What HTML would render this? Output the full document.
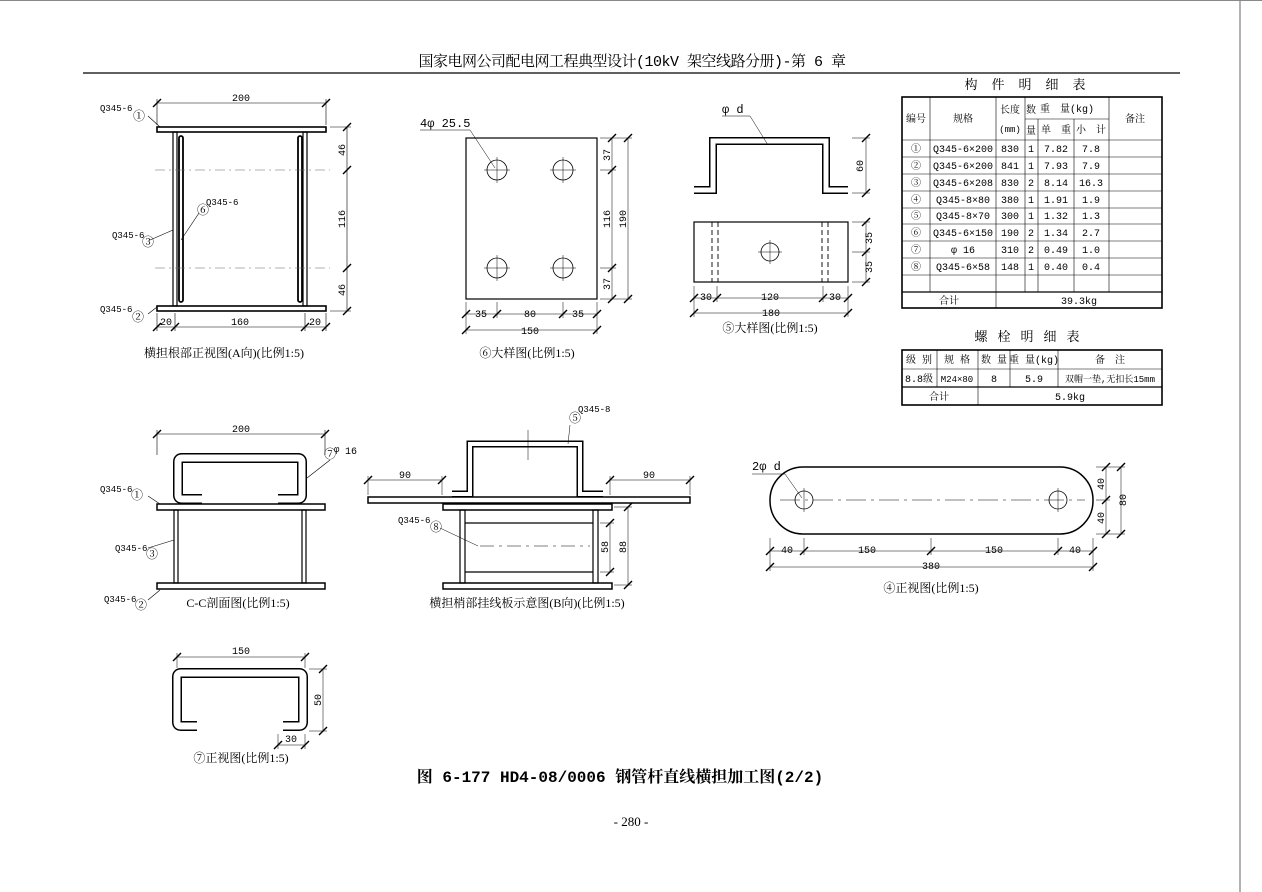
<!DOCTYPE html>
<html><head><meta charset="utf-8"><style>
html,body{margin:0;padding:0;background:#fff;}
svg{display:block;font-family:"Liberation Serif","Noto Serif CJK SC","Noto Sans CJK SC",serif;}
.m{font-family:"Liberation Mono","Noto Serif CJK SC",monospace;}
</style></head><body>
<svg width="1262" height="892" viewBox="0 0 1262 892" xmlns="http://www.w3.org/2000/svg">
<defs>
<line id="t" x1="-4" y1="4" x2="4" y2="-4" stroke="#000" stroke-width="1.4"/>
</defs>
<rect x="0" y="0" width="1262" height="892" fill="#fff"/>
<line x1="1240" y1="0" x2="1240" y2="892" stroke="#666" stroke-width="1"/>
<line x1="0" y1="0.5" x2="1262" y2="0.5" stroke="#888" stroke-width="1"/>
<text x="632" y="66" font-size="15" text-anchor="middle" class="m" letter-spacing="-0.5">国家电网公司配电网工程典型设计(10kV 架空线路分册)-第 6 章</text>
<line x1="83" y1="73" x2="1180" y2="73" stroke="#000" stroke-width="1.2"/>

<g fill="none" stroke="#000" stroke-width="1.2">
<rect x="157" y="127" width="169" height="5" stroke-width="1.6"/>
<rect x="157" y="306" width="169" height="5" stroke-width="1.6"/>
<rect x="173" y="132" width="4" height="174"/>
<rect x="303" y="132" width="4" height="174"/>
<rect x="179" y="136" width="4" height="166" rx="2" stroke-width="1.8"/>
<rect x="298" y="136" width="4" height="166" rx="2" stroke-width="1.8"/>
<g stroke-width="0.5" stroke-dasharray="10 4 2 4" stroke="#666"><line x1="155" y1="170" x2="330" y2="170"/><line x1="155" y1="268" x2="330" y2="268"/></g>
<g stroke-width="0.6"><line x1="157" y1="103" x2="326" y2="103"/><line x1="157" y1="99" x2="157" y2="125"/><line x1="326" y1="99" x2="326" y2="125"/>
<line x1="347" y1="127" x2="347" y2="311"/><line x1="330" y1="127" x2="351" y2="127"/><line x1="330" y1="311" x2="351" y2="311"/>
<line x1="157" y1="327" x2="326" y2="327"/><line x1="157" y1="313" x2="157" y2="331"/><line x1="175" y1="313" x2="175" y2="331"/><line x1="305" y1="313" x2="305" y2="331"/><line x1="326" y1="313" x2="326" y2="331"/>
<line x1="148" y1="116" x2="160" y2="127"/><line x1="148" y1="314" x2="157" y2="307"/><line x1="150" y1="240" x2="173" y2="230"/><line x1="199" y1="213" x2="181" y2="240"/></g>
<rect x="466" y="138" width="131" height="161"/>
<g stroke-width="0.8"><circle cx="497" cy="170" r="10"/><circle cx="563" cy="170" r="10"/><circle cx="497" cy="268" r="10"/><circle cx="563" cy="268" r="10"/></g>
<g stroke-width="0.5"><path d="M484 170h26M497 157v26M550 170h26M563 157v26M484 268h26M497 255v26M550 268h26M563 255v26"/>
<line x1="612" y1="138" x2="612" y2="299"/><line x1="628" y1="138" x2="628" y2="299"/><line x1="600" y1="138" x2="632" y2="138"/><line x1="600" y1="299" x2="632" y2="299"/><line x1="600" y1="170" x2="616" y2="170"/><line x1="600" y1="268" x2="616" y2="268"/>
<line x1="466" y1="314" x2="597" y2="314"/><line x1="466" y1="330" x2="597" y2="330"/><line x1="466" y1="302" x2="466" y2="334"/><line x1="597" y1="302" x2="597" y2="334"/><line x1="497" y1="302" x2="497" y2="318"/><line x1="563" y1="302" x2="563" y2="318"/>
<line x1="420" y1="130" x2="470" y2="130"/><line x1="470" y1="130" x2="495" y2="168"/></g>
<polyline points="694,190 713,190 713,141 826,141 826,190 848,190" stroke-width="8" stroke-linejoin="miter"/>
<polyline points="694,190 713,190 713,141 826,141 826,190 848,190" stroke="#fff" stroke-width="5"/>
<rect x="694" y="222" width="154" height="60"/>
<circle cx="770" cy="252" r="9" stroke-width="0.8"/>
<g stroke-width="0.5"><path d="M758 252h24M770 240v24"/>
<g stroke-dasharray="5 3" stroke-width="0.9"><line x1="712" y1="222" x2="712" y2="282"/><line x1="718" y1="222" x2="718" y2="282"/><line x1="822" y1="222" x2="822" y2="282"/><line x1="828" y1="222" x2="828" y2="282"/></g>
<line x1="866" y1="138" x2="866" y2="193"/><line x1="852" y1="138" x2="870" y2="138"/><line x1="852" y1="193" x2="870" y2="193"/>
<line x1="866" y1="222" x2="866" y2="282"/><line x1="852" y1="222" x2="870" y2="222"/><line x1="852" y1="282" x2="870" y2="282"/><line x1="852" y1="252" x2="870" y2="252"/>
<line x1="694" y1="298" x2="848" y2="298"/><line x1="694" y1="313" x2="848" y2="313"/><line x1="694" y1="286" x2="694" y2="317"/><line x1="848" y1="286" x2="848" y2="317"/><line x1="717" y1="286" x2="717" y2="302"/><line x1="823" y1="286" x2="823" y2="302"/>
<line x1="722" y1="116" x2="750" y2="116"/><line x1="750" y1="116" x2="768" y2="145"/></g>
<rect x="157" y="504" width="168" height="6" stroke-width="1.5"/>
<rect x="157" y="583" width="168" height="6" stroke-width="1.5"/>
<rect x="174" y="510" width="4" height="73"/><rect x="302" y="510" width="4" height="73"/>
<path d="M202,499 H182 Q178,499 178,495 V462 Q178,458 182,458 H298 Q302,458 302,462 V495 Q302,499 298,499 H278" stroke-width="10"/>
<path d="M202,499 H182 Q178,499 178,495 V462 Q178,458 182,458 H298 Q302,458 302,462 V495 Q302,499 298,499 H278" stroke="#fff" stroke-width="7"/>
<g stroke-width="0.6"><line x1="157" y1="434" x2="325" y2="434"/><line x1="157" y1="430" x2="157" y2="455"/><line x1="325" y1="430" x2="325" y2="455"/>
<line x1="148" y1="496" x2="160" y2="504"/><line x1="148" y1="548" x2="174" y2="540"/><line x1="148" y1="600" x2="160" y2="590"/><line x1="330" y1="460" x2="307" y2="478"/></g>
<rect x="368" y="497" width="322" height="6" stroke-width="1.5"/>
<polyline points="452,494 470,494 470,444 580,444 580,494 603,494" stroke-width="7"/>
<polyline points="452,494 470,494 470,444 580,444 580,494 603,494" stroke="#fff" stroke-width="4"/>
<rect x="443" y="504" width="169" height="6" stroke-width="1.5"/>
<rect x="443" y="583" width="169" height="6" stroke-width="1.5"/>
<rect x="460" y="510" width="5" height="73"/><rect x="593" y="510" width="5" height="73"/>
<line x1="465" y1="523" x2="593" y2="523"/><line x1="465" y1="572" x2="593" y2="572"/>
<g stroke-width="0.5"><line x1="480" y1="546" x2="590" y2="546" stroke-dasharray="14 5 3 5"/><line x1="528" y1="430" x2="528" y2="460"/>
<line x1="368" y1="480" x2="442" y2="480"/><line x1="368" y1="476" x2="368" y2="495"/><line x1="442" y1="476" x2="442" y2="495"/>
<line x1="610" y1="480" x2="690" y2="480"/><line x1="610" y1="476" x2="610" y2="495"/><line x1="690" y1="476" x2="690" y2="495"/>
<line x1="610" y1="523" x2="610" y2="572"/><line x1="600" y1="523" x2="614" y2="523"/><line x1="600" y1="572" x2="614" y2="572"/>
<line x1="628" y1="507" x2="628" y2="585"/><line x1="614" y1="507" x2="632" y2="507"/><line x1="614" y1="585" x2="632" y2="585"/>
<line x1="440" y1="528" x2="478" y2="546"/><line x1="570" y1="425" x2="568" y2="444"/></g>
<rect x="770" y="467" width="323" height="67" rx="33" ry="33" stroke-width="1.5"/>
<circle cx="804" cy="500" r="9" stroke-width="0.8"/><circle cx="1058" cy="500" r="9" stroke-width="0.8"/>
<g stroke-width="0.5"><line x1="780" y1="500" x2="1085" y2="500" stroke-dasharray="20 5 3 5"/><path d="M804 488v24M1058 488v24"/>
<line x1="1106" y1="467" x2="1106" y2="534"/><line x1="1121" y1="467" x2="1121" y2="534"/><line x1="1096" y1="467" x2="1125" y2="467"/><line x1="1096" y1="534" x2="1125" y2="534"/><line x1="1096" y1="500" x2="1110" y2="500"/>
<line x1="770" y1="551" x2="1093" y2="551"/><line x1="770" y1="567" x2="1093" y2="567"/><line x1="770" y1="538" x2="770" y2="571"/><line x1="1093" y1="538" x2="1093" y2="571"/><line x1="804" y1="538" x2="804" y2="555"/><line x1="931" y1="538" x2="931" y2="555"/><line x1="1058" y1="538" x2="1058" y2="555"/>
<line x1="752" y1="474" x2="785" y2="474"/><line x1="785" y1="474" x2="802" y2="498"/></g>
<path d="M197,726 H181 Q177,726 177,722 V677 Q177,673 181,673 H299 Q303,673 303,677 V722 Q303,726 299,726 H283" stroke-width="10"/>
<path d="M197,726 H181 Q177,726 177,722 V677 Q177,673 181,673 H299 Q303,673 303,677 V722 Q303,726 299,726 H283" stroke="#fff" stroke-width="7"/>
<g stroke-width="0.5"><line x1="177" y1="657" x2="305" y2="657"/><line x1="177" y1="653" x2="177" y2="668"/><line x1="305" y1="653" x2="305" y2="668"/>
<line x1="323" y1="669" x2="323" y2="731"/><line x1="309" y1="669" x2="327" y2="669"/><line x1="309" y1="731" x2="327" y2="731"/>
<line x1="278" y1="745" x2="305" y2="745"/><line x1="278" y1="734" x2="278" y2="749"/><line x1="305" y1="734" x2="305" y2="749"/></g>
</g>
<g>
<use href="#t" x="157" y="103"/><use href="#t" x="326" y="103"/><use href="#t" x="347" y="127"/><use href="#t" x="347" y="170"/><use href="#t" x="347" y="268"/><use href="#t" x="347" y="311"/>
<use href="#t" x="157" y="327"/><use href="#t" x="175" y="327"/><use href="#t" x="305" y="327"/><use href="#t" x="326" y="327"/>
<use href="#t" x="612" y="138"/><use href="#t" x="612" y="170"/><use href="#t" x="612" y="268"/><use href="#t" x="612" y="299"/><use href="#t" x="628" y="138"/><use href="#t" x="628" y="299"/>
<use href="#t" x="466" y="314"/><use href="#t" x="497" y="314"/><use href="#t" x="563" y="314"/><use href="#t" x="597" y="314"/><use href="#t" x="466" y="330"/><use href="#t" x="597" y="330"/>
<use href="#t" x="866" y="138"/><use href="#t" x="866" y="193"/><use href="#t" x="866" y="222"/><use href="#t" x="866" y="252"/><use href="#t" x="866" y="282"/>
<use href="#t" x="694" y="298"/><use href="#t" x="717" y="298"/><use href="#t" x="823" y="298"/><use href="#t" x="848" y="298"/><use href="#t" x="694" y="313"/><use href="#t" x="848" y="313"/>
<use href="#t" x="157" y="434"/><use href="#t" x="325" y="434"/>
<use href="#t" x="368" y="480"/><use href="#t" x="442" y="480"/><use href="#t" x="610" y="480"/><use href="#t" x="690" y="480"/>
<use href="#t" x="610" y="523"/><use href="#t" x="610" y="572"/><use href="#t" x="628" y="507"/><use href="#t" x="628" y="585"/>
<use href="#t" x="1106" y="467"/><use href="#t" x="1106" y="500"/><use href="#t" x="1106" y="534"/><use href="#t" x="1121" y="467"/><use href="#t" x="1121" y="534"/>
<use href="#t" x="770" y="551"/><use href="#t" x="804" y="551"/><use href="#t" x="931" y="551"/><use href="#t" x="1058" y="551"/><use href="#t" x="1093" y="551"/><use href="#t" x="770" y="567"/><use href="#t" x="1093" y="567"/>
<use href="#t" x="177" y="657"/><use href="#t" x="305" y="657"/><use href="#t" x="323" y="669"/><use href="#t" x="323" y="731"/><use href="#t" x="278" y="745"/><use href="#t" x="305" y="745"/>
</g>
<g font-size="10" class="m">
<text x="241" y="101" text-anchor="middle">200</text>
<text transform="translate(345,150) rotate(-90)" text-anchor="middle">46</text>
<text transform="translate(345,219) rotate(-90)" text-anchor="middle">116</text>
<text transform="translate(345,290) rotate(-90)" text-anchor="middle">46</text>
<text x="166" y="325" text-anchor="middle">20</text><text x="240" y="325" text-anchor="middle">160</text><text x="315" y="325" text-anchor="middle">20</text>
<text x="100" y="111" font-size="9">Q345-6</text><text x="139" y="120" font-size="12" text-anchor="middle">①</text>
<text x="100" y="312" font-size="9">Q345-6</text><text x="138" y="321" font-size="12" text-anchor="middle">②</text>
<text x="112" y="238" font-size="9">Q345-6</text><text x="148" y="246" font-size="12" text-anchor="middle">③</text>
<text x="206" y="205" font-size="9">Q345-6</text><text x="203" y="214" font-size="12" text-anchor="middle">⑥</text>
<text x="420" y="127" font-size="12">4φ 25.5</text>
<text transform="translate(610,155) rotate(-90)" text-anchor="middle">37</text>
<text transform="translate(610,219) rotate(-90)" text-anchor="middle">116</text>
<text transform="translate(610,284) rotate(-90)" text-anchor="middle">37</text>
<text transform="translate(626,219) rotate(-90)" text-anchor="middle">190</text>
<text x="481" y="317" text-anchor="middle">35</text><text x="530" y="317" text-anchor="middle">80</text><text x="578" y="317" text-anchor="middle">35</text><text x="530" y="334" text-anchor="middle">150</text>
<text x="722" y="113" font-size="12">φ d</text>
<text transform="translate(863,166) rotate(-90)" text-anchor="middle">60</text>
<text transform="translate(872,238) rotate(-90)" text-anchor="middle">35</text>
<text transform="translate(872,267) rotate(-90)" text-anchor="middle">35</text>
<text x="706" y="300" text-anchor="middle">30</text><text x="770" y="300" text-anchor="middle">120</text><text x="835" y="300" text-anchor="middle">30</text><text x="771" y="316" text-anchor="middle">180</text>
<text x="241" y="432" text-anchor="middle">200</text>
<text x="100" y="492" font-size="9">Q345-6</text><text x="137" y="499" font-size="12" text-anchor="middle">①</text>
<text x="115" y="551" font-size="9">Q345-6</text><text x="152" y="558" font-size="12" text-anchor="middle">③</text>
<text x="104" y="602" font-size="9">Q345-6</text><text x="141" y="609" font-size="12" text-anchor="middle">②</text>
<text x="330" y="458" font-size="12" text-anchor="middle">⑦</text><text x="345" y="454">16</text><text x="334" y="452" font-size="9">φ</text>
<text x="405" y="478" text-anchor="middle">90</text><text x="649" y="478" text-anchor="middle">90</text>
<text x="578" y="412" font-size="9">Q345-8</text><text x="575" y="422" font-size="12" text-anchor="middle">⑤</text>
<text x="398" y="523" font-size="9">Q345-6</text><text x="436" y="531" font-size="12" text-anchor="middle">⑧</text>
<text transform="translate(608,547) rotate(-90)" text-anchor="middle">58</text>
<text transform="translate(626,547) rotate(-90)" text-anchor="middle">88</text>
<text x="752" y="470" font-size="12">2φ d</text>
<text transform="translate(1104,484) rotate(-90)" text-anchor="middle">40</text>
<text transform="translate(1104,518) rotate(-90)" text-anchor="middle">40</text>
<text transform="translate(1126,500) rotate(-90)" text-anchor="middle">80</text>
<text x="787" y="553" text-anchor="middle">40</text><text x="867" y="553" text-anchor="middle">150</text><text x="994" y="553" text-anchor="middle">150</text><text x="1075" y="553" text-anchor="middle">40</text><text x="931" y="569" text-anchor="middle">380</text>
<text x="241" y="654" text-anchor="middle">150</text>
<text transform="translate(321,700) rotate(-90)" text-anchor="middle">50</text>
<text x="291" y="742" text-anchor="middle">30</text>
</g>
<g font-size="12" text-anchor="middle">
<text x="224" y="357">横担根部正视图(A向)(比例1:5)</text>
<text x="527" y="357">⑥大样图(比例1:5)</text>
<text x="770" y="332">⑤大样图(比例1:5)</text>
<text x="238" y="607">C-C剖面图(比例1:5)</text>
<text x="527" y="607">横担梢部挂线板示意图(B向)(比例1:5)</text>
<text x="931" y="592">④正视图(比例1:5)</text>
<text x="241" y="762">⑦正视图(比例1:5)</text>
</g>
<text x="620" y="782" font-size="16" text-anchor="middle" class="m" font-weight="bold">图 6-177  HD4-08/0006 钢管杆直线横担加工图(2/2)</text>
<text x="631" y="826" font-size="13" text-anchor="middle">- 280 -</text>

<text x="1032" y="89" font-size="13" text-anchor="middle" letter-spacing="14">构件明细表</text>
<g fill="none" stroke="#000">
<rect x="902" y="97" width="260" height="211" stroke-width="1.6"/>
<g stroke-width="0.6">
<line x1="930" y1="97" x2="930" y2="292"/><line x1="996" y1="97" x2="996" y2="308"/><line x1="1025" y1="97" x2="1025" y2="292"/><line x1="1038" y1="119" x2="1038" y2="292"/><line x1="1074" y1="119" x2="1074" y2="292"/><line x1="1109" y1="97" x2="1109" y2="292"/>
<line x1="1025" y1="119" x2="1109" y2="119"/>
<line x1="902" y1="140" x2="1162" y2="140"/><line x1="902" y1="157" x2="1162" y2="157"/><line x1="902" y1="174" x2="1162" y2="174"/><line x1="902" y1="191" x2="1162" y2="191"/><line x1="902" y1="208" x2="1162" y2="208"/><line x1="902" y1="224" x2="1162" y2="224"/><line x1="902" y1="241" x2="1162" y2="241"/><line x1="902" y1="258" x2="1162" y2="258"/><line x1="902" y1="275" x2="1162" y2="275"/>
</g>
<line x1="902" y1="292" x2="1162" y2="292" stroke-width="1.2"/>
</g>
<g font-size="10" text-anchor="middle" class="m">
<text x="916" y="122">编号</text><text x="963" y="122">规格</text><text x="1010" y="113">长度</text><text x="1010" y="132" font-size="9">(mm)</text>
<text x="1031" y="113">数</text><text x="1031" y="134">量</text><text x="1067" y="112">重　量(kg)</text><text x="1056" y="133">单　重</text><text x="1091" y="133">小　计</text><text x="1135" y="122">备注</text>
<text x="916" y="152">①</text><text x="963" y="152">Q345-6×200</text><text x="1010" y="152">830</text><text x="1031" y="152">1</text><text x="1056" y="152">7.82</text><text x="1091" y="152">7.8</text>
<text x="916" y="169">②</text><text x="963" y="169">Q345-6×200</text><text x="1010" y="169">841</text><text x="1031" y="169">1</text><text x="1056" y="169">7.93</text><text x="1091" y="169">7.9</text>
<text x="916" y="186">③</text><text x="963" y="186">Q345-6×208</text><text x="1010" y="186">830</text><text x="1031" y="186">2</text><text x="1056" y="186">8.14</text><text x="1091" y="186">16.3</text>
<text x="916" y="203">④</text><text x="963" y="203">Q345-8×80</text><text x="1010" y="203">380</text><text x="1031" y="203">1</text><text x="1056" y="203">1.91</text><text x="1091" y="203">1.9</text>
<text x="916" y="219">⑤</text><text x="963" y="219">Q345-8×70</text><text x="1010" y="219">300</text><text x="1031" y="219">1</text><text x="1056" y="219">1.32</text><text x="1091" y="219">1.3</text>
<text x="916" y="236">⑥</text><text x="963" y="236">Q345-6×150</text><text x="1010" y="236">190</text><text x="1031" y="236">2</text><text x="1056" y="236">1.34</text><text x="1091" y="236">2.7</text>
<text x="916" y="253">⑦</text><text x="963" y="253">φ 16</text><text x="1010" y="253">310</text><text x="1031" y="253">2</text><text x="1056" y="253">0.49</text><text x="1091" y="253">1.0</text>
<text x="916" y="270">⑧</text><text x="963" y="270">Q345-6×58</text><text x="1010" y="270">148</text><text x="1031" y="270">1</text><text x="1056" y="270">0.40</text><text x="1091" y="270">0.4</text>
<text x="949" y="304">合计</text><text x="1079" y="304">39.3kg</text>
</g>
<text x="1032" y="341" font-size="13" text-anchor="middle" letter-spacing="10">螺栓明细表</text>
<g fill="none" stroke="#000">
<rect x="902" y="350" width="260" height="55" stroke-width="1.6"/>
<g stroke-width="0.6">
<line x1="937" y1="350" x2="937" y2="387"/><line x1="978" y1="350" x2="978" y2="405"/><line x1="1010" y1="350" x2="1010" y2="387"/><line x1="1058" y1="350" x2="1058" y2="387"/>
<line x1="902" y1="369" x2="1162" y2="369"/></g>
<line x1="902" y1="387" x2="1162" y2="387" stroke-width="1.2"/>
</g>
<g font-size="10" text-anchor="middle" class="m">
<text x="919" y="363">级 别</text><text x="957" y="363">规 格</text><text x="994" y="363">数 量</text><text x="1034" y="363">重 量(kg)</text><text x="1110" y="363">备　注</text>
<text x="919" y="382">8.8级</text><text x="957" y="382" font-size="9">M24×80</text><text x="994" y="382">8</text><text x="1034" y="382">5.9</text><text x="1110" y="382" font-size="9">双帽一垫,无扣长15mm</text>
<text x="939" y="400">合计</text><text x="1070" y="400">5.9kg</text>
</g>
</svg>
</body></html>
